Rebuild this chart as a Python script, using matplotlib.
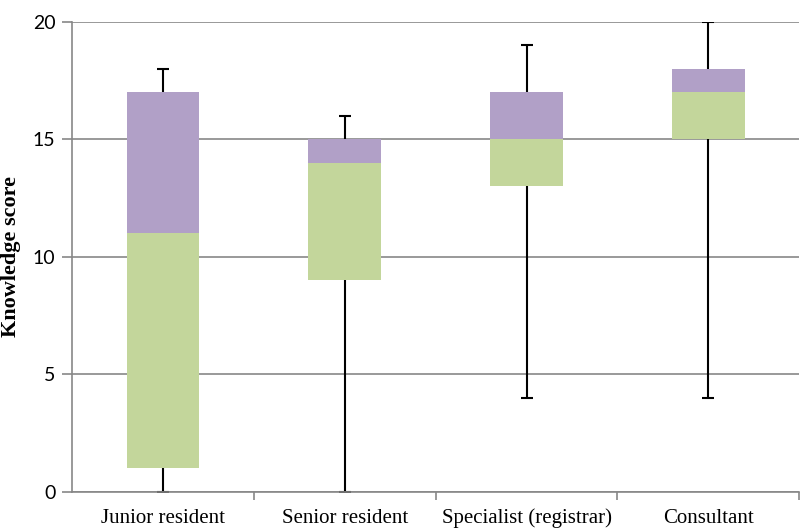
import numpy as np
import matplotlib
matplotlib.use("Agg")
import matplotlib.pyplot as plt

# box plot data (Excel-style stacked bars)
groups = ["Junior resident", "Senior resident", "Specialist (registrar)", "Consultant"]
mins = [0, 0, 4, 4]
q1 = [1, 9, 13, 15]
medians = [11, 14, 15, 17]
q3 = [17, 15, 17, 18]
maxs = [18, 16, 19, 20]

green = "#c3d69b"
purple = "#b1a0c7"
grid_col = "#878787"

fig = plt.figure(figsize=(8, 5.3), dpi=100)
ax = fig.add_axes([0.09, 0.0717, 0.909, 0.887])

x = np.arange(len(groups))
q1 = np.array(q1)
medians = np.array(medians)
q3 = np.array(q3)

ax.bar(x, medians - q1, bottom=q1, width=0.4, color=green, zorder=3)
ax.bar(x, q3 - medians, bottom=medians, width=0.4, color=purple, zorder=3)

# whiskers
ax.vlines(x, q3, maxs, color="black", lw=1.5, zorder=4)
ax.vlines(x, mins, q1, color="black", lw=1.5, zorder=4)
ax.plot(x, maxs, ls="none", marker="_", ms=9, mew=1.5, color="black", zorder=4)
ax.plot(x, mins, ls="none", marker="_", ms=9, mew=1.5, color="black", zorder=2)

ax.set_xlim(-0.5, len(groups) - 0.5)
ax.set_ylim(0, 20)
ax.set_yticks([0, 5, 10, 15, 20])
ax.yaxis.grid(True, color=grid_col, lw=1.2)
ax.set_axisbelow(True)

for s in ["top", "right"]:
    ax.spines[s].set_visible(False)
for s in ["left", "bottom"]:
    ax.spines[s].set_color(grid_col)
    ax.spines[s].set_linewidth(1.2)
    ax.spines[s].set_zorder(5)

ax.set_xticks(x)
ax.set_xticklabels(groups, fontsize=15, family="Liberation Serif")
ax.tick_params(axis="x", length=0, pad=12)
ax.set_xticks(np.arange(len(groups)) + 0.5, minor=True)
ax.tick_params(axis="x", which="minor", length=6, color=grid_col, width=1.2)
ax.tick_params(axis="y", length=7, color=grid_col, width=1.2, labelsize=14, pad=5)
for lab in ax.get_yticklabels():
    lab.set_family("Lato")

fig.text(0.014, 0.516, "Knowledge score", rotation=90, ha="center", va="center",
         fontsize=16, family="Liberation Serif", fontweight="bold")

fig.savefig("out.png", dpi=100)
